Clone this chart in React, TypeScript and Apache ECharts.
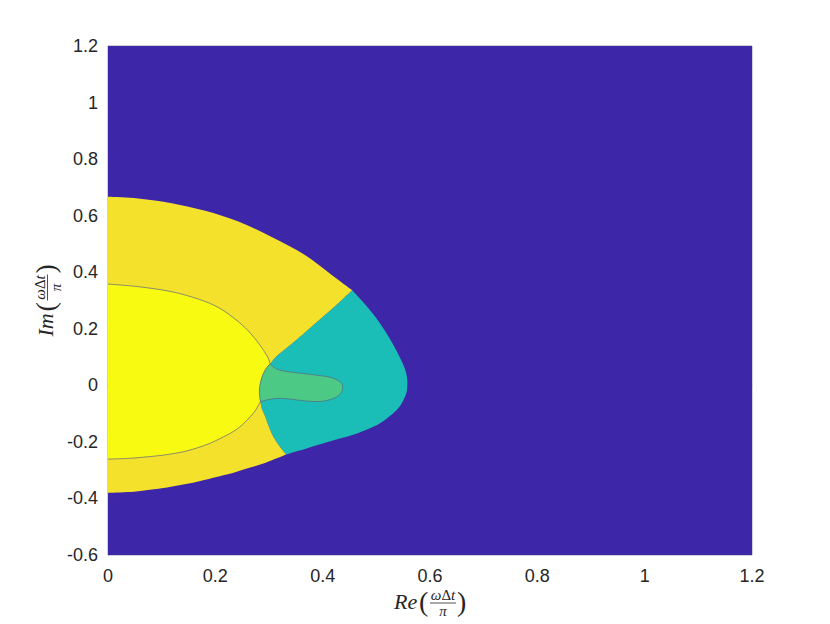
import React, { useEffect, useRef } from "react";
import * as echarts from "echarts";

// Tick labels
const xTickLabels = ["0", "0.2", "0.4", "0.6", "0.8", "1", "1.2"];
const yTickLabels = ["-0.6", "-0.4", "-0.2", "0", "0.2", "0.4", "0.6", "0.8", "1", "1.2"];

// Region boundaries, in data coordinates [Re, Im]
const plotRegion = [[0, -0.6], [1.2, -0.6], [1.2, 1.2], [0, 1.2]];

const outerTop = [
  [0, 0.667], [0.0565, 0.661], [0.119, 0.644], [0.181, 0.617], [0.243, 0.579], [0.305, 0.525],
  [0.367, 0.461], [0.417, 0.39], [0.455, 0.336],
];

const tealOuter = [
  [0.455, 0.336], [0.48, 0.284], [0.507, 0.219], [0.53, 0.149], [0.549, 0.078], [0.557, 0.03],
  [0.557, -0.017], [0.551, -0.05], [0.543, -0.076], [0.531, -0.1], [0.514, -0.125], [0.495, -0.146],
  [0.464, -0.17], [0.432, -0.188], [0.4, -0.206], [0.37, -0.223], [0.35, -0.234], [0.332, -0.245],
];

const lowerArc = [
  [0.332, -0.245], [0.296, -0.272], [0.265, -0.291], [0.234, -0.309], [0.2, -0.325], [0.172, -0.338],
  [0.14, -0.351], [0.11, -0.361], [0.078, -0.369], [0.048, -0.376], [0, -0.38],
];

const tealYellowUpper = [
  [0.455, 0.336], [0.43, 0.292], [0.401, 0.243], [0.375, 0.2], [0.352, 0.162], [0.335, 0.136],
  [0.32, 0.113], [0.31, 0.095], [0.302, 0.076],
];

const tealYellowLower = [
  [0.284, -0.058], [0.287, -0.085], [0.293, -0.111], [0.3, -0.147], [0.308, -0.182], [0.319, -0.214], [0.332, -0.245],
];

const innerUpper = [
  [0, 0.358], [0.056, 0.349], [0.119, 0.331], [0.17, 0.304], [0.205, 0.276], [0.233, 0.24],
  [0.256, 0.203], [0.274, 0.165], [0.289, 0.126], [0.298, 0.098], [0.302, 0.076],
];

const innerRight = [
  [0.302, 0.076], [0.293, 0.055], [0.287, 0.03], [0.283, 0.0], [0.282, -0.025], [0.284, -0.058],
];

const innerLower = [
  [0.284, -0.058], [0.275, -0.088], [0.265, -0.111], [0.25, -0.14], [0.233, -0.164], [0.21, -0.187],
  [0.19, -0.205], [0.165, -0.222], [0.14, -0.235], [0.11, -0.245], [0.078, -0.252], [0.04, -0.258], [0, -0.261],
];

const greenBoundary = [
  [0.302, 0.076], [0.31, 0.063], [0.32, 0.054], [0.34, 0.047], [0.358, 0.043], [0.38, 0.038],
  [0.401, 0.033], [0.415, 0.028], [0.428, 0.018], [0.436, 0.005], [0.437, -0.011], [0.433, -0.03],
  [0.422, -0.045], [0.401, -0.056], [0.38, -0.057], [0.358, -0.053], [0.34, -0.049], [0.32, -0.046],
  [0.3, -0.05], [0.284, -0.058],
];

const regionColors = ["#3E26A8", "#1BBEB6", "#F4E12B", "#F9FA12", "#4BC985"];

function rev(a: number[][]) {
  return a.slice().reverse();
}

// Each region: list of boundary curves (each smoothed on its own, sharp corners where they meet)
const regions: number[][][][] = [
  [[plotRegion[0], plotRegion[1]], [plotRegion[1], plotRegion[2]], [plotRegion[2], plotRegion[3]]],
  [tealOuter, rev(tealYellowLower), rev(innerRight), rev(tealYellowUpper)],
  [outerTop, tealYellowUpper, innerRight, tealYellowLower, lowerArc],
  [innerUpper, innerRight, innerLower],
  [greenBoundary, rev(innerRight)],
];

const contourLines = [innerUpper, innerRight, innerLower, greenBoundary];

// Shape that joins Catmull-Rom smoothed curves
const SmoothRegion = (echarts.graphic as any).extendShape({
  type: "smoothRegion",
  shape: { curves: [], closed: true },
  buildPath(ctx: any, shape: any) {
    const curves: number[][][] = shape.curves || [];
    let started = false;
    curves.forEach((c) => {
      const n = c.length;
      if (!n) return;
      if (!started) {
        ctx.moveTo(c[0][0], c[0][1]);
        started = true;
      } else {
        ctx.lineTo(c[0][0], c[0][1]);
      }
      for (let i = 0; i < n - 1; i++) {
        const p0 = c[Math.max(i - 1, 0)];
        const p1 = c[i];
        const p2 = c[i + 1];
        const p3 = c[Math.min(i + 2, n - 1)];
        ctx.bezierCurveTo(
          p1[0] + (p2[0] - p0[0]) / 6,
          p1[1] + (p2[1] - p0[1]) / 6,
          p2[0] - (p3[0] - p1[0]) / 6,
          p2[1] - (p3[1] - p1[1]) / 6,
          p2[0],
          p2[1]
        );
      }
    });
    if (shape.closed) ctx.closePath();
  },
});
(echarts.graphic as any).registerShape("smoothRegion", SmoothRegion);

const FONT_SANS = '"Liberation Sans", Arial, Helvetica, sans-serif';
const FONT_SERIF = '"Liberation Serif", "DejaVu Serif", "Times New Roman", serif';

function axisLabelGroup(main: string, x: number, y: number, rotation: number) {
  return {
    type: "group",
    x,
    y,
    rotation,
    children: [
      { type: "text", x: 0, y: -2, style: { text: main, font: `italic 22px ${FONT_SERIF}`, fill: "#262626", align: "left", verticalAlign: "middle" } },
      { type: "text", x: 25, y: -2, style: { text: "(", font: `28px ${FONT_SERIF}`, fill: "#262626", align: "left", verticalAlign: "middle" } },
      {
        type: "text",
        x: 49,
        y: -8,
        style: {
          text: "{i|ω}{u|Δ}{i|t}",
          align: "center",
          verticalAlign: "middle",
          rich: {
            i: { font: `italic 15px ${FONT_SERIF}`, fill: "#262626" },
            u: { font: `15px ${FONT_SERIF}`, fill: "#262626" },
          },
        },
      },
      { type: "line", shape: { x1: 36, y1: 0, x2: 62, y2: 0 }, style: { stroke: "#262626", lineWidth: 0.8 } },
      { type: "text", x: 49, y: 8, style: { text: "π", font: `italic 15px ${FONT_SERIF}`, fill: "#262626", align: "center", verticalAlign: "middle" } },
      { type: "text", x: 63, y: -2, style: { text: ")", font: `28px ${FONT_SERIF}`, fill: "#262626", align: "left", verticalAlign: "middle" } },
    ],
  };
}

export default function App() {
  const ref = useRef<HTMLDivElement>(null);
  useEffect(() => {
    if (!ref.current) return;
    const chart = echarts.init(ref.current, null, { renderer: "svg" });
    const axisColor = "#a0a0a0";
    chart.setOption({
      animation: false,
      backgroundColor: "#ffffff",
      grid: { left: 108, top: 46, width: 644, height: 509, show: true, borderColor: axisColor, borderWidth: 1, backgroundColor: "transparent" },
      xAxis: {
        type: "value",
        min: 0,
        max: 1.2,
        interval: 0.2,
        splitLine: { show: false },
        axisTick: { show: false },
        axisLine: { show: true, lineStyle: { color: axisColor, width: 1 } },
        axisLabel: {
          margin: 12,
          color: "#262626",
          fontSize: 18,
          fontFamily: FONT_SANS,
          formatter: (_v: number, i: number) => xTickLabels[i],
        },
      },
      yAxis: {
        type: "value",
        min: -0.6,
        max: 1.2,
        interval: 0.2,
        splitLine: { show: false },
        axisTick: { show: false },
        axisLine: { show: true, lineStyle: { color: axisColor, width: 1 } },
        axisLabel: {
          margin: 10,
          color: "#262626",
          fontSize: 18,
          fontFamily: FONT_SANS,
          formatter: (_v: number, i: number) => yTickLabels[i],
        },
      },
      series: [
        {
          type: "custom",
          coordinateSystem: "cartesian2d",
          data: regions.map((_, i) => [i]),
          silent: true,
          renderItem: (params: any, api: any) => {
            const curves = regions[params.dataIndex].map((c) => c.map((p) => api.coord(p)));
            return {
              type: "smoothRegion",
              shape: { curves, closed: true },
              style: { fill: regionColors[params.dataIndex], stroke: null },
            };
          },
        },
        {
          type: "custom",
          coordinateSystem: "cartesian2d",
          data: contourLines.map((_, i) => [i]),
          silent: true,
          renderItem: (params: any, api: any) => {
            const pts = contourLines[params.dataIndex].map((p) => api.coord(p));
            return {
              type: "smoothRegion",
              shape: { curves: [pts], closed: false },
              style: { fill: null, stroke: "#5b6482", lineWidth: 0.7 },
            };
          },
        },
      ],
      graphic: [axisLabelGroup("Re", 394, 603, 0), axisLabelGroup("Im", 47.5, 336.5, Math.PI / 2)],
    });
    return () => chart.dispose();
  }, []);
  return <div ref={ref} style={{ position: "fixed", left: 0, top: 0, width: 830, height: 624, background: "#fff" }} />;
}
